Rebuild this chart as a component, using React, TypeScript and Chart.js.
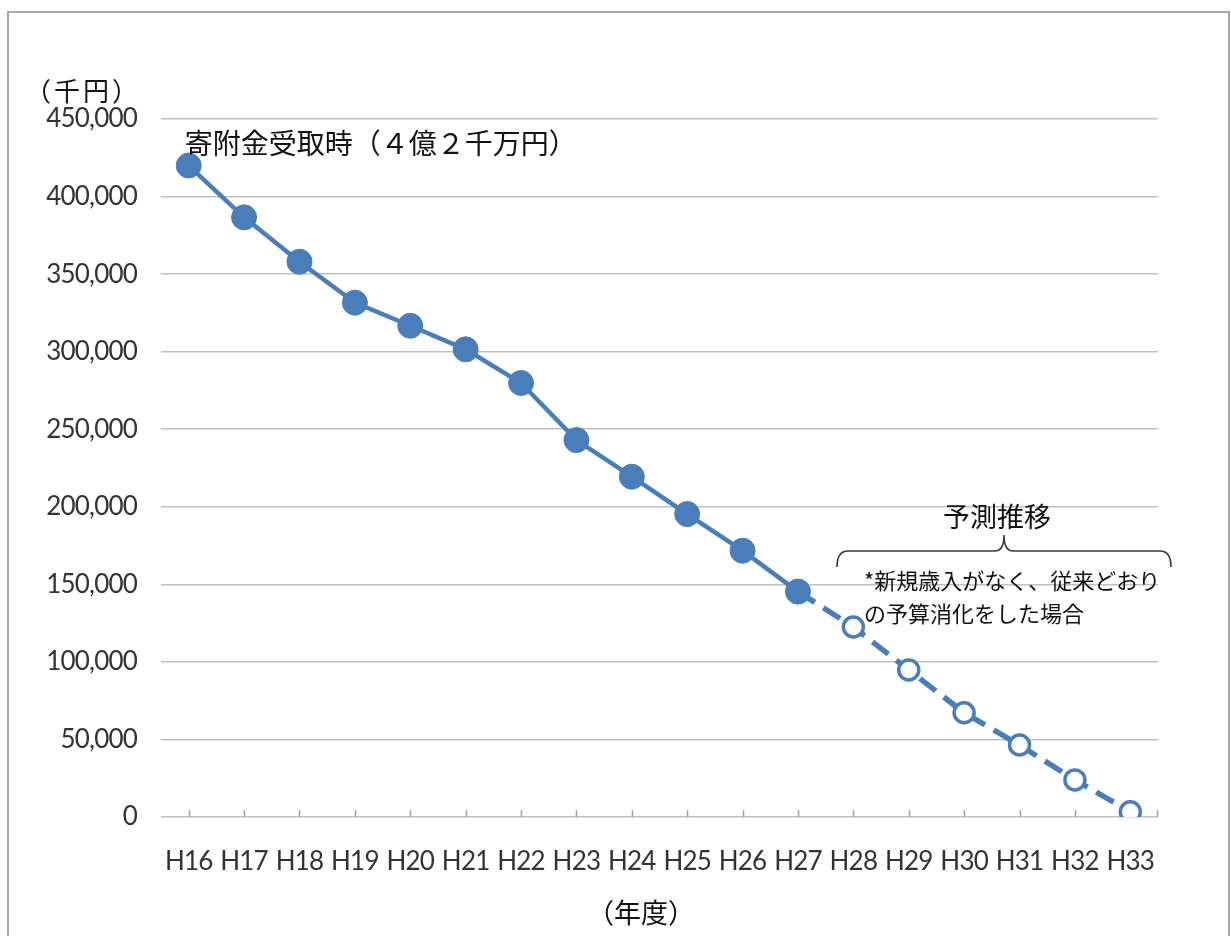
import React, { useEffect, useRef } from 'react';
import { Chart, registerables } from 'chart.js';

Chart.register(...registerables);

// ---- data ----
const categories = ['H16', 'H17', 'H18', 'H19', 'H20', 'H21', 'H22', 'H23', 'H24', 'H25', 'H26', 'H27', 'H28', 'H29', 'H30', 'H31', 'H32', 'H33'];
// 実績 H16–H27 (千円)
const actualValues = [420000, 386600, 358000, 331600, 316700, 301500, 279800, 243000, 219400, 195300, 171700, 145300];
// 予測 H27–H33 (千円)
const forecastValues = [145300, 122500, 94800, 67200, 46400, 23900, 3400];
const yMin = 0;
const yMax = 450000;
const yStep = 50000;

// ---- texts ----
const yAxisUnit = '（千円）';
const xAxisUnit = '（年度）';
const startNote = '寄附金受取時（４億２千万円）';
const forecastTitle = '予測推移';
const forecastNoteLines = ['*新規歳入がなく、従来どおり', 'の予算消化をした場合'];

const BLUE = '#4a7ebb';
const GRID = '#c0c0c0';
const TICK_TEXT = '#333333';
const CJK = '"Noto Sans CJK JP", "Noto Sans CJK SC", sans-serif';
const LATIN = 'Lato, "Open Sans", sans-serif';

const setSpacing = (ctx: any, v: string) => {
  try { ctx.letterSpacing = v; } catch (e) { /* ignore */ }
};

const decorPlugin = {
  id: 'decor',
  beforeInit(chart: any) {
    setSpacing(chart.ctx, '-0.8px');
  },
  beforeDraw(chart: any) {
    const { ctx, width, height } = chart;
    setSpacing(ctx, '-0.8px');
    ctx.save();
    ctx.fillStyle = '#ffffff';
    ctx.fillRect(0, 0, width, height);
    ctx.strokeStyle = '#a8a8a8';
    ctx.lineWidth = 2;
    ctx.strokeRect(8, 12, width - 10, height + 20);
    ctx.restore();
  },
  beforeDatasetsDraw(chart: any) {
    const { ctx, chartArea, scales } = chart;
    const xs = scales.x;
    ctx.save();
    ctx.strokeStyle = '#a0a0a0';
    ctx.lineWidth = 1.5;
    ctx.beginPath();
    for (let i = 0; i < categories.length; i++) {
      const px = Math.round(xs.getPixelForValue(i)) + 0.5;
      ctx.moveTo(px, chartArea.bottom);
      ctx.lineTo(px, chartArea.bottom - 7);
    }
    const rx = Math.round(chartArea.right) - 0.5;
    ctx.moveTo(rx, chartArea.bottom);
    ctx.lineTo(rx, chartArea.bottom - 7);
    ctx.stroke();
    ctx.restore();
  },
  afterDraw(chart: any) {
    const { ctx, scales } = chart;
    const xs = scales.x;
    const ys = scales.y;
    ctx.save();
    ctx.fillStyle = '#111111';
    ctx.textBaseline = 'middle';

    // y unit
    setSpacing(ctx, '3px');
    ctx.font = `26px ${CJK}`;
    ctx.textAlign = 'center';
    ctx.fillText(yAxisUnit, 83, ys.getPixelForValue(yMax) - 28);
    setSpacing(ctx, '0px');

    // start note
    ctx.font = `28px ${CJK}`;
    ctx.textAlign = 'left';
    ctx.fillText(startNote, xs.getPixelForValue(0) - 4, ys.getPixelForValue(actualValues[0]) - 22);

    // forecast title
    ctx.font = `27px ${CJK}`;
    ctx.textAlign = 'center';
    ctx.fillText(forecastTitle, 997, 517);

    // brace
    const L = 837, R = 1171, M = 1004, yb = 567, yh = 551, yp = 535;
    ctx.strokeStyle = '#3a3a3a';
    ctx.lineWidth = 1.6;
    ctx.beginPath();
    ctx.moveTo(L, yb);
    ctx.quadraticCurveTo(L, yh, L + 11, yh);
    ctx.lineTo(M - 9, yh);
    ctx.quadraticCurveTo(M, yh, M, yp);
    ctx.quadraticCurveTo(M, yh, M + 9, yh);
    ctx.lineTo(R - 11, yh);
    ctx.quadraticCurveTo(R, yh, R, yb);
    ctx.stroke();

    // forecast notes
    ctx.font = `22px ${CJK}`;
    ctx.textAlign = 'left';
    ctx.fillText(forecastNoteLines[0], 864, 581);
    ctx.fillText(forecastNoteLines[1], 864, 614);

    // x unit
    ctx.font = `27px ${CJK}`;
    ctx.textAlign = 'center';
    ctx.fillText(xAxisUnit, 641, 913);

    ctx.restore();
  },
};

export default function App() {
  const canvasRef = useRef<HTMLCanvasElement | null>(null);

  useEffect(() => {
    if (!canvasRef.current) return;
    const forecastData = [
      ...Array(actualValues.length - 1).fill(null),
      ...forecastValues,
    ];
    const chart = new Chart(canvasRef.current, {
      type: 'line',
      data: {
        labels: categories,
        datasets: [
          {
            label: '実績',
            data: actualValues,
            borderColor: BLUE,
            backgroundColor: BLUE,
            borderWidth: 4.5,
            pointRadius: 12.5,
            pointBackgroundColor: BLUE,
            pointBorderColor: BLUE,
            pointBorderWidth: 1,
            tension: 0,
          },
          {
            label: '予測',
            data: forecastData,
            borderColor: BLUE,
            backgroundColor: '#ffffff',
            borderWidth: 5.5,
            borderDash: [20, 10],
            borderCapStyle: 'butt',
            pointRadius: (c: any) => (c.dataIndex === actualValues.length - 1 ? 0 : 10),
            pointBackgroundColor: '#ffffff',
            pointBorderColor: BLUE,
            pointBorderWidth: 3.5,
            tension: 0,
            spanGaps: false,
          },
        ],
      },
      options: {
        responsive: false,
        animation: false,
        layout: { padding: { left: 0, right: 73, top: 119, bottom: 0 } },
        plugins: {
          legend: { display: false },
          tooltip: { enabled: false },
          title: { display: false },
        },
        scales: {
          x: {
            type: 'category',
            offset: true,
            grid: { display: false },
            border: { display: false },
            ticks: {
              color: TICK_TEXT,
              font: { family: LATIN, size: 26 },
              padding: 21,
              maxRotation: 0,
              autoSkip: false,
            },
            afterFit: (scale: any) => {
              scale.height = 119;
            },
          },
          y: {
            min: yMin,
            max: yMax,
            grid: { color: GRID, lineWidth: 1.5, drawTicks: false },
            border: { display: false },
            ticks: {
              stepSize: yStep,
              color: TICK_TEXT,
              font: { family: LATIN, size: 26 },
              padding: 24,
              callback: (v: any) => Number(v).toLocaleString('en-US'),
            },
            afterFit: (scale: any) => {
              scale.width = 161;
            },
          },
        },
      },
      plugins: [decorPlugin],
    } as any);
    return () => chart.destroy();
  }, []);

  return (
    <div style={{ position: 'absolute', left: 0, top: 0, width: 1231, height: 936 }}>
      <canvas ref={canvasRef} width={1231} height={936} style={{ display: 'block', width: 1231, height: 936 }} />
    </div>
  );
}
